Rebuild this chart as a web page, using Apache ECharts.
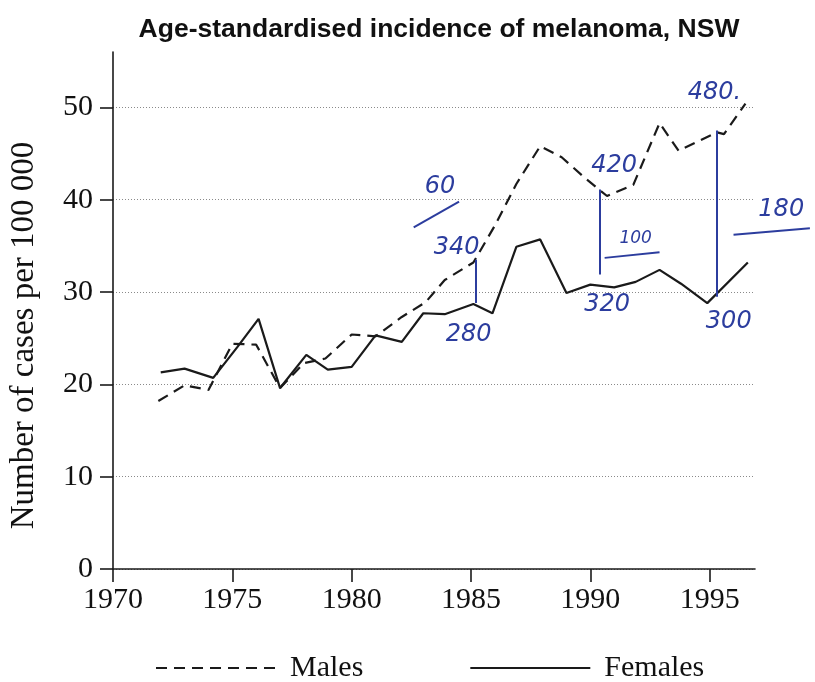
<!DOCTYPE html>
<html>
<head>
<meta charset="utf-8">
<script src="https://cdn.jsdelivr.net/npm/echarts@6/dist/echarts.min.js"></script>
<style>
html,body{margin:0;padding:0;background:#fff;}
#chart{width:815px;height:682px;}
</style>
</head>
<body>
<div id="chart"></div>
<script>
// ---- data ----
const titleText = 'Age-standardised incidence of melanoma, NSW';
const yAxisTitle = 'Number of cases per 100 000';
const xTickValues = [1970, 1975, 1980, 1985, 1990, 1995];
const yTickValues = [0, 10, 20, 30, 40, 50];

const maleYears = [1971.9, 1973.0, 1974.0, 1975.0, 1976.0, 1977.0, 1978.0, 1978.9, 1980.0, 1981.0, 1982.1, 1983.1, 1983.9, 1985.1, 1986.0, 1986.9, 1987.9, 1988.8, 1989.8, 1990.7, 1991.8, 1992.9, 1993.7, 1994.5, 1995.3, 1995.6, 1996.5];
const maleRates = [18.2, 19.9, 19.4, 24.4, 24.3, 19.6, 22.3, 22.8, 25.4, 25.2, 27.3, 28.9, 31.3, 33.2, 37.2, 41.7, 45.8, 44.6, 42.3, 40.4, 41.6, 48.3, 45.3, 46.3, 47.3, 47.1, 50.4];

const femaleYears = [1972.0, 1973.0, 1974.2, 1975.2, 1976.1, 1977.0, 1978.1, 1979.0, 1980.0, 1981.0, 1982.1, 1983.0, 1983.9, 1985.1, 1985.9, 1986.9, 1987.9, 1989.0, 1990.0, 1991.0, 1991.9, 1992.9, 1993.8, 1994.9, 1996.6];
const femaleRates = [21.3, 21.7, 20.7, 24.0, 27.1, 19.6, 23.2, 21.6, 21.9, 25.3, 24.6, 27.7, 27.6, 28.7, 27.7, 34.9, 35.7, 29.9, 30.8, 30.5, 31.1, 32.4, 30.9, 28.8, 33.2];

const seriesNames = ['Males', 'Females'];

// handwritten notes on the reference (text and where they sit, in chart units)
const noteTexts = ['60', '340', '280', '420', '100', '320', '480.', '300', '180'];
const noteYears = [1983.7, 1984.4, 1984.9, 1991.0, 1991.9, 1990.7, 1995.2, 1995.8, 1998.0];
const noteRates = [41.4, 34.8, 25.4, 43.7, 35.8, 28.6, 51.6, 26.8, 38.9];
// vertical difference bars
const gapYears = [1985.2, 1990.4, 1995.3];
const gapTop = [33.5, 41.1, 47.5];
const gapBottom = [28.8, 31.9, 29.5];
// underlines
const underlineFrom = [[1982.6, 37.0], [1990.6, 33.7], [1996.0, 36.2]];
const underlineTo = [[1984.5, 39.8], [1992.9, 34.3], [1999.2, 36.9]];

const ink = '#1a1a1a';
const pen = '#2c3d9e';
const serif = '"Liberation Serif", "Times New Roman", serif';
const handFont = '"DejaVu Sans", sans-serif';

const chart = echarts.init(document.getElementById('chart'), null, {renderer: 'canvas'});

const gapLines = gapYears.map((x, i) => [
  {coord: [x, gapTop[i]]}, {coord: [x, gapBottom[i]]}
]);

chart.setOption({
  animation: false,
  backgroundColor: '#fff',
  title: {
    text: titleText,
    left: 434, top: 11, textAlign: 'center',
    textStyle: {fontFamily: '"Liberation Sans", Arial, sans-serif', fontWeight: 'bold', fontSize: 26.5, color: '#111'}
  },
  legend: {
    data: seriesNames,
    top: 648, left: 150,
    itemWidth: 120, itemHeight: 14, itemGap: 106,
    itemStyle: {opacity: 0},
    textStyle: {fontFamily: serif, fontSize: 30, color: '#111', padding: [0, 0, 0, 9]}
  },
  grid: {left: 107, right: 60, top: 52, bottom: 113, containLabel: false},
  xAxis: {
    type: 'value', min: 1970, max: 1996.9, interval: 5,
    axisLine: {show: true, lineStyle: {color: ink, width: 1.6}},
    axisTick: {show: true, length: 13, inside: false, lineStyle: {color: ink, width: 1.6}, customValues: xTickValues},
    axisLabel: {customValues: xTickValues, formatter: v => String(v), fontFamily: serif, fontSize: 30, color: '#111', margin: 16},
    splitLine: {show: false}
  },
  yAxis: {
    type: 'value', min: 0, max: 56, interval: 10,
    name: yAxisTitle, nameLocation: 'middle', nameGap: 72, nameRotate: 90,
    nameTextStyle: {fontFamily: serif, fontSize: 33, color: '#111', padding: [0, 50, 0, 0]},
    axisLine: {show: true, lineStyle: {color: ink, width: 1.6}},
    axisTick: {show: true, length: 13, inside: false, lineStyle: {color: ink, width: 1.6}, customValues: yTickValues},
    axisLabel: {customValues: yTickValues, formatter: v => String(v), fontFamily: serif, fontSize: 30, color: '#111', margin: 20},
    splitLine: {show: true, lineStyle: {color: '#8a8a8a', type: [1, 2], width: 1}}
  },
  series: [
    {
      name: seriesNames[0], type: 'line', symbol: 'none',
      data: maleYears.map((x, i) => [x, maleRates[i]]),
      lineStyle: {color: ink, width: 2.2, type: [11, 7]},
      itemStyle: {color: ink}
    },
    {
      name: seriesNames[1], type: 'line', symbol: 'none',
      data: femaleYears.map((x, i) => [x, femaleRates[i]]),
      lineStyle: {color: ink, width: 2.2},
      itemStyle: {color: ink}
    },
    {
      name: 'notes', type: 'line', data: [], clip: false, silent: true,
      markLine: {
        symbol: 'none', silent: true, animation: false, label: {show: false},
        lineStyle: {color: pen, width: 2, type: 'solid'},
        data: gapLines
      }
    }
  ]
});

// handwritten notes: positioned by converting their chart-unit coordinates through the axes
const toPx = p => chart.convertToPixel({gridIndex: 0}, p);
const graphics = [];
noteTexts.forEach((t, i) => {
  const [px, py] = toPx([noteYears[i], noteRates[i]]);
  graphics.push({
    type: 'text', x: px, y: py, silent: true,
    style: {text: t, fill: pen, font: 'italic 300 ' + (t === '100' ? 17 : 24) + 'px ' + handFont,
      textAlign: 'center', textVerticalAlign: 'middle'}
  });
});
underlineFrom.forEach((p, i) => {
  const a = toPx(p), b = toPx(underlineTo[i]);
  graphics.push({
    type: 'line', silent: true,
    shape: {x1: a[0], y1: a[1], x2: b[0], y2: b[1]},
    style: {stroke: pen, lineWidth: 2}
  });
});
chart.setOption({graphic: graphics});
</script>
</body>
</html>
